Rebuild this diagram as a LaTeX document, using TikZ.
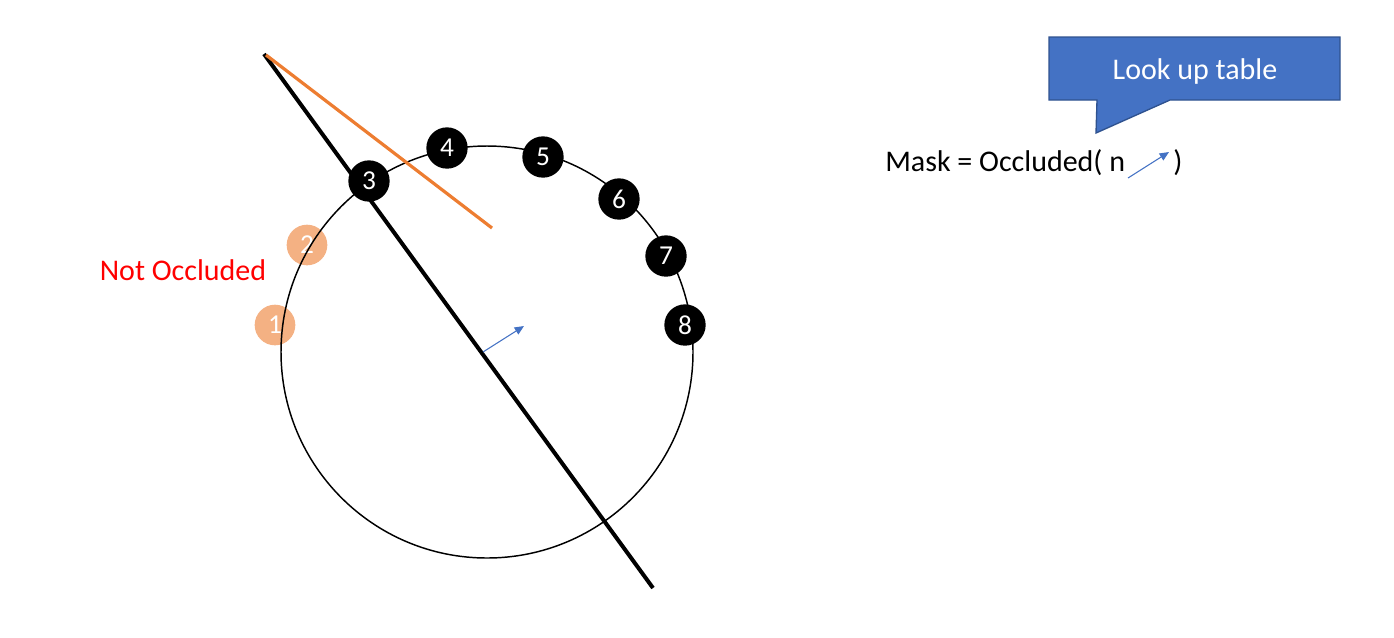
\documentclass[tikz,border=0pt]{standalone}
\usepackage{fontspec}
\setmainfont{Carlito}
\usetikzlibrary{arrows.meta}
\definecolor{accblue}{HTML}{4472C4}
\definecolor{accdark}{HTML}{2F528F}
\definecolor{lightorange}{HTML}{F4B183}
\definecolor{linorange}{HTML}{ED7D31}
\begin{document}
\begin{tikzpicture}[x=0.75pt,y=-0.75pt,
  blackdot/.style={circle,fill=black,minimum size=31pt,inner sep=0pt,text=white,font=\fontsize{20.5}{20.5}\selectfont},
  paledot/.style={circle,fill=lightorange,minimum size=30.5pt,inner sep=0pt,text=white,font=\fontsize{20.5}{20.5}\selectfont},
  lbl/.style={font=\fontsize{22.5}{22.5}\selectfont},
  vec/.style={accblue,line width=0.8pt,-{Triangle[length=7pt,width=6pt]}}]
\useasboundingbox (0,0) rectangle (1394,637);
% pale dots (under the circle)
\node[paledot] (d1) at (275,325) {1};
\node[paledot] (d2) at (307,245) {2};
% circle
\node[circle,draw=black,line width=1.1pt,minimum size=309pt,inner sep=0pt] (circ) at (487,352) {};
% black and orange lines
\coordinate (top) at (264,54);
\coordinate (bot) at (653,588);
\coordinate (otop) at (266,55);
\coordinate (oend) at (492,228);
\draw[line width=3pt] (top) -- (bot);
\draw[linorange,line width=2.4pt] (otop) -- (oend);
% black dots
\node[blackdot] (d3) at (369,181) {3};
\node[blackdot] (d4) at (447,148) {4};
\node[blackdot] (d5) at (543,157) {5};
\node[blackdot] (d6) at (619,199) {6};
\node[blackdot] (d7) at (666,256) {7};
\node[blackdot] (d8) at (685,325) {8};
% label
\node[lbl,text=red] (nocc) at (183,270) {Not Occluded};
% normal vector
\coordinate (n0) at (483,352);
\coordinate (n1) at (524,326);
\draw[vec] (n0) -- (n1);
% mask expression
\node[lbl,anchor=base west,inner sep=0pt] (mask) at (885,171) {Mask = Occluded( n};
\coordinate (m0) at (1128,178);
\coordinate (m1) at (1169,152);
\draw[vec] (m0) -- (m1);
\node[lbl,anchor=base west,inner sep=0pt] (paren) at (1173,171) {)};
% callout
\draw[fill=accblue,draw=accdark,line width=1pt] (1049,37) -- (1340,37) -- (1340,100) -- (1170,100) -- (1096,133) -- (1097,100) -- (1049,100) -- cycle;
\node[lbl,text=white] (lut) at (1195,71) {Look up table};
\end{tikzpicture}
\end{document}
